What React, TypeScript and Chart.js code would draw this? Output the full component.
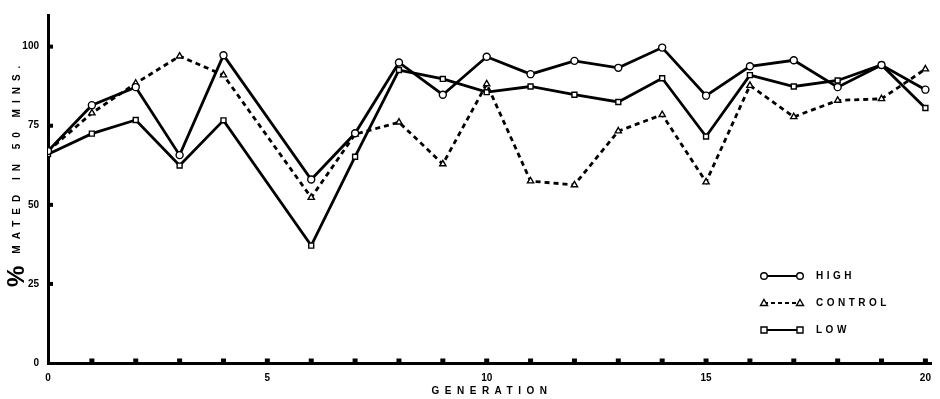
import React, { useEffect, useRef } from "react";
import { Chart, registerables } from "chart.js";

Chart.register(...registerables);

const generations = [0, 1, 2, 3, 4, 6, 7, 8, 9, 10, 11, 12, 13, 14, 15, 16, 17, 18, 19, 20];
const highValues = [67, 81.5, 87.2, 65.7, 97.3, 58, 72.6, 95, 84.8, 96.8, 91.3, 95.5, 93.3, 99.7, 84.5, 93.8, 95.7, 87.2, 94.2, 86.4];
const controlValues = [67, 79, 88.4, 97, 91, 52.3, 72.3, 76.1, 62.9, 88.2, 57.5, 56.3, 73.3, 78.5, 57.2, 87.7, 77.8, 83, 83.5, 92.9];
const lowValues = [66, 72.5, 76.8, 62.4, 76.7, 37.1, 65.2, 92.6, 89.8, 85.6, 87.4, 84.8, 82.5, 90, 71.6, 91, 87.4, 89.3, 94.2, 80.6];
const xTickValues = [0, 5, 10, 15, 20];
const yTickValues = [0, 25, 50, 75, 100];
const seriesNames = ["HIGH", "CONTROL", "LOW"];
const yTitlePercent = "%";
const yTitleRest = "MATED IN 50 MINS.";
const xTitle = "GENERATION";

const FONT = '"Liberation Sans", Arial, sans-serif';

function drawMarker(ctx: CanvasRenderingContext2D, style: string, x: number, y: number) {
  ctx.save();
  ctx.fillStyle = "#fff";
  ctx.strokeStyle = "#000";
  ctx.lineWidth = 1.4;
  ctx.setLineDash([]);
  ctx.beginPath();
  if (style === "circle") {
    ctx.arc(x, y, 3.3, 0, Math.PI * 2);
  } else if (style === "rect") {
    ctx.rect(x - 3, y - 3, 6, 6);
  } else {
    ctx.moveTo(x, y - 3.5);
    ctx.lineTo(x + 3.5, y + 2.5);
    ctx.lineTo(x - 3.5, y + 2.5);
    ctx.closePath();
  }
  ctx.fill();
  ctx.stroke();
  ctx.restore();
}

const decorPlugin = {
  id: "decor",
  afterDraw(chart: any) {
    const ctx: CanvasRenderingContext2D = chart.ctx;
    const xs = chart.scales.x;
    const ys = chart.scales.y;
    ctx.save();
    ctx.fillStyle = "#000";
    // minor ticks on x axis (every generation)
    for (let g = 1; g <= 20; g++) {
      const px = xs.getPixelForValue(g);
      ctx.fillRect(px - 2.5, ys.bottom - 4.5, 5, 4);
    }
    // ticks on y axis
    for (const v of yTickValues) {
      if (v === 0) continue;
      const py = ys.getPixelForValue(v);
      ctx.fillRect(xs.left, py - 2, 5, 4);
    }

    // y title
    ctx.save();
    ctx.translate(17, 287);
    ctx.rotate(-Math.PI / 2);
    ctx.textBaseline = "middle";
    ctx.textAlign = "left";
    ctx.font = `bold 24px ${FONT}`;
    ctx.fillText(yTitlePercent, 0, 0);
    const w = ctx.measureText(yTitlePercent).width;
    ctx.font = `bold 10px ${FONT}`;
    (ctx as any).letterSpacing = "6px";
    ctx.fillText(yTitleRest, w + 12, 0);
    ctx.restore();

    // x title
    ctx.save();
    ctx.font = `bold 10px ${FONT}`;
    (ctx as any).letterSpacing = "5.5px";
    ctx.textBaseline = "middle";
    ctx.textAlign = "center";
    ctx.fillText(xTitle, 492, 391);
    ctx.restore();

    // legend
    const styles = ["circle", "triangle", "rect"];
    const dashes = [[], [4, 3], []];
    const legendY = [276, 303, 330];
    seriesNames.forEach((name, i) => {
      const y = legendY[i];
      ctx.save();
      ctx.strokeStyle = "#000";
      ctx.lineWidth = 2.2;
      ctx.setLineDash(dashes[i]);
      ctx.beginPath();
      ctx.moveTo(764, y);
      ctx.lineTo(800, y);
      ctx.stroke();
      ctx.restore();
      drawMarker(ctx, styles[i], 764, y);
      drawMarker(ctx, styles[i], 800, y);
      ctx.save();
      ctx.font = `bold 10px ${FONT}`;
      (ctx as any).letterSpacing = "3.5px";
      ctx.textBaseline = "middle";
      ctx.textAlign = "left";
      ctx.fillStyle = "#000";
      ctx.fillText(name, 816, y);
      ctx.restore();
    });
    ctx.restore();
  },
};

export default function App() {
  const canvasRef = useRef<HTMLCanvasElement | null>(null);

  useEffect(() => {
    document.body.style.margin = "0";
    const canvas = canvasRef.current;
    if (!canvas) return;
    const mk = (vals: number[]) => generations.map((g, i) => ({ x: g, y: vals[i] }));
    const common = {
      borderColor: "#000",
      borderWidth: 2.8,
      pointBackgroundColor: "#fff",
      pointBorderColor: "#000",
      pointBorderWidth: 1.4,
      tension: 0,
      fill: false,
    };
    const chart = new Chart(canvas, {
      type: "line",
      data: {
        datasets: [
          { ...common, label: seriesNames[0], data: mk(highValues), pointStyle: "circle", pointRadius: 3.5 },
          { ...common, label: seriesNames[1], data: mk(controlValues), pointStyle: "triangle", pointRadius: 3.6, borderDash: [5, 4] },
          { ...common, label: seriesNames[2], data: mk(lowValues), pointStyle: "rect", pointRadius: 3.5 },
        ],
      },
      options: {
        responsive: false,
        animation: false,
        devicePixelRatio: 1,
        layout: { padding: { top: 10, right: 5, left: 0, bottom: 0 } },
        plugins: { legend: { display: false }, tooltip: { enabled: false }, title: { display: false } },
        elements: { line: { borderCapStyle: "butt" } },
        scales: {
          x: {
            type: "linear",
            min: 0,
            max: 20.15,
            afterBuildTicks: (s: any) => {
              s.ticks = xTickValues.map((v) => ({ value: v }));
            },
            afterFit: (s: any) => {
              s.height = 36;
            },
            grid: { display: false, drawTicks: false },
            border: { display: true, color: "#000", width: 3 },
            ticks: {
              padding: 9,
              color: "#000",
              font: { family: FONT, size: 10, weight: "bold" },
              maxRotation: 0,
              autoSkip: false,
            },
          },
          y: {
            type: "linear",
            min: 0,
            max: 110,
            afterBuildTicks: (s: any) => {
              s.ticks = yTickValues.map((v) => ({ value: v }));
            },
            afterFit: (s: any) => {
              s.width = 48;
            },
            grid: { display: false, drawTicks: false },
            border: { display: true, color: "#000", width: 3 },
            ticks: {
              padding: 9,
              color: "#000",
              font: { family: FONT, size: 10, weight: "bold" },
              autoSkip: false,
            },
          },
        },
      } as any,
      plugins: [decorPlugin as any],
    });
    return () => chart.destroy();
  }, []);

  return (
    <div style={{ width: 940, height: 399, background: "#fff" }}>
      <canvas ref={canvasRef} width={940} height={399} style={{ display: "block" }} />
    </div>
  );
}
